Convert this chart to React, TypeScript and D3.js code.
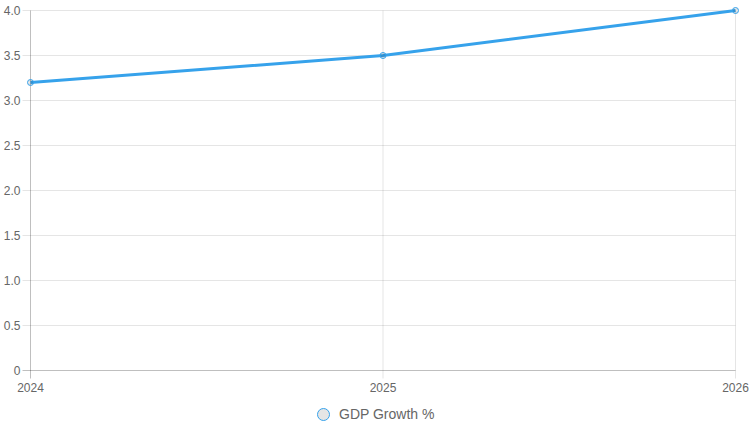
import React from "react";
import * as d3 from "d3";

const years = ["2024", "2025", "2026"];
const gdpGrowth = [3.2, 3.5, 4.0];
const yTicks = [0, 0.5, 1.0, 1.5, 2.0, 2.5, 3.0, 3.5, 4.0];
const seriesName = "GDP Growth %";

export default function App() {
  const W = 751, H = 433;
  const left = 30.5, right = 735.5, top = 10.5, bottom = 370.5;
  const x = d3.scalePoint<string>().domain(years).range([left, right]);
  const y = d3.scaleLinear().domain([0, 4]).range([bottom, top]);
  const line = d3.line<number>().x((_, i) => x(years[i])!).y((d) => y(d));
  const font = "Helvetica Neue, Helvetica, Arial, 'Liberation Sans', sans-serif";
  const blue = "#36A2EB";
  return (
    <svg width={W} height={H} style={{ position: "absolute", left: 0, top: 0 }} fontFamily={font}>
      {yTicks.map((t) => (
        <g key={"y" + t}>
          <line x1={left - 8} x2={right} y1={y(t)} y2={y(t)} stroke={t === 0 ? "rgba(0,0,0,0.25)" : "rgba(0,0,0,0.1)"} />
          <text x={left - 10} y={y(t)} dy="0.35em" textAnchor="end" fontSize={12} fill="#666">
            {t === 0 ? "0" : t.toFixed(1)}
          </text>
        </g>
      ))}
      {years.map((yr) => (
        <g key={"x" + yr}>
          <line x1={x(yr)} x2={x(yr)} y1={top} y2={bottom + 8} stroke={yr === years[0] ? "rgba(0,0,0,0.25)" : "rgba(0,0,0,0.1)"} />
          <text x={x(yr)} y={bottom + 21} textAnchor="middle" fontSize={12} fill="#666">
            {yr}
          </text>
        </g>
      ))}
      <path d={line(gdpGrowth)!} fill="none" stroke={blue} strokeWidth={3} />
      {gdpGrowth.map((v, i) => (
        <circle key={i} cx={x(years[i])} cy={y(v)} r={3} fill="rgba(0,0,0,0.1)" stroke={blue} strokeWidth={1} />
      ))}
      <circle cx={323.5} cy={414.5} r={6} fill="#e5e5e5" stroke={blue} strokeWidth={1} />
      <text x={339} y={414.5} dy="0.35em" fontSize={14} fill="#666">
        {seriesName}
      </text>
    </svg>
  );
}
